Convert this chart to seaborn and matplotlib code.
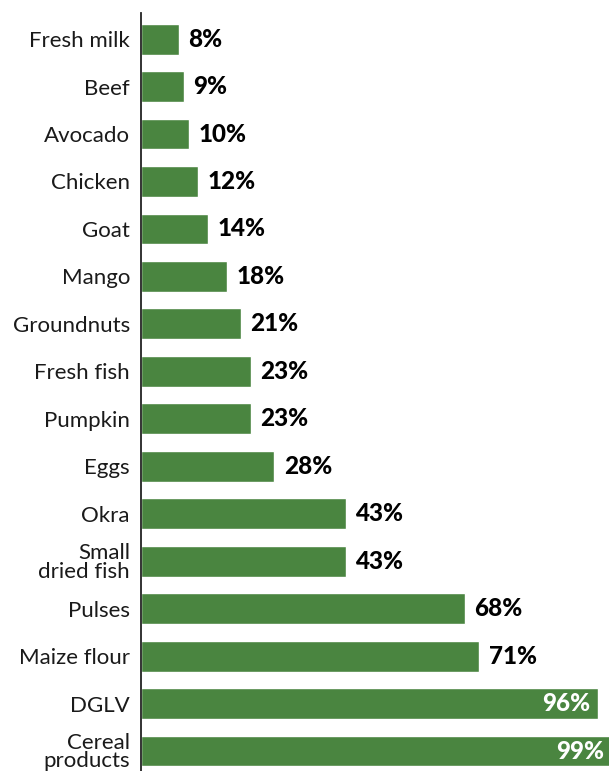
import matplotlib
matplotlib.use("Agg")
import matplotlib.pyplot as plt
import seaborn as sns
import pandas as pd

categories = ["Fresh milk", "Beef", "Avocado", "Chicken", "Goat", "Mango",
              "Groundnuts", "Fresh fish", "Pumpkin", "Eggs", "Okra",
              "Small\ndried fish", "Pulses", "Maize flour", "DGLV",
              "Cereal\nproducts"]
values = [8, 9, 10, 12, 14, 18, 21, 23, 23, 28, 43, 43, 68, 71, 96, 99]

df = pd.DataFrame({"food": categories, "pct": values})

sns.set_theme(style="white")
plt.rcParams["font.family"] = ["Lato", "DejaVu Sans"]

fig = plt.figure(figsize=(6.09, 7.71), dpi=100)
ax = fig.add_axes([141 / 609, 0, 1 - 141 / 609, 1 - 13 / 771])

green = "#4A8540"
sns.barplot(data=df, y="food", x="pct", orient="h", color=green,
            saturation=1, width=0.65, ax=ax)

ax.set_xlim(0, 98.3)
ax.set_ylim(15.42, -0.55)
ax.set_xlabel("")
ax.set_ylabel("")
ax.set_xticks([])
for s in ["top", "right", "bottom"]:
    ax.spines[s].set_visible(False)
ax.spines["left"].set_color("#222222")
ax.spines["left"].set_linewidth(1.3)
ax.tick_params(axis="y", length=0, pad=8, labelsize=16, labelcolor="#1a1a1a")
for lab in ax.get_yticklabels():
    lab.set_linespacing(0.9)

for i, v in enumerate(values):
    if v >= 90:
        ax.text(v - 1.7, i, f"{v}%", ha="right", va="center", color="white",
                fontsize=17.5, fontweight="black")
    else:
        ax.text(v + 2.0, i, f"{v}%", ha="left", va="center", color="black",
                fontsize=17.5, fontweight="black")

fig.savefig("out.png", dpi=100)
